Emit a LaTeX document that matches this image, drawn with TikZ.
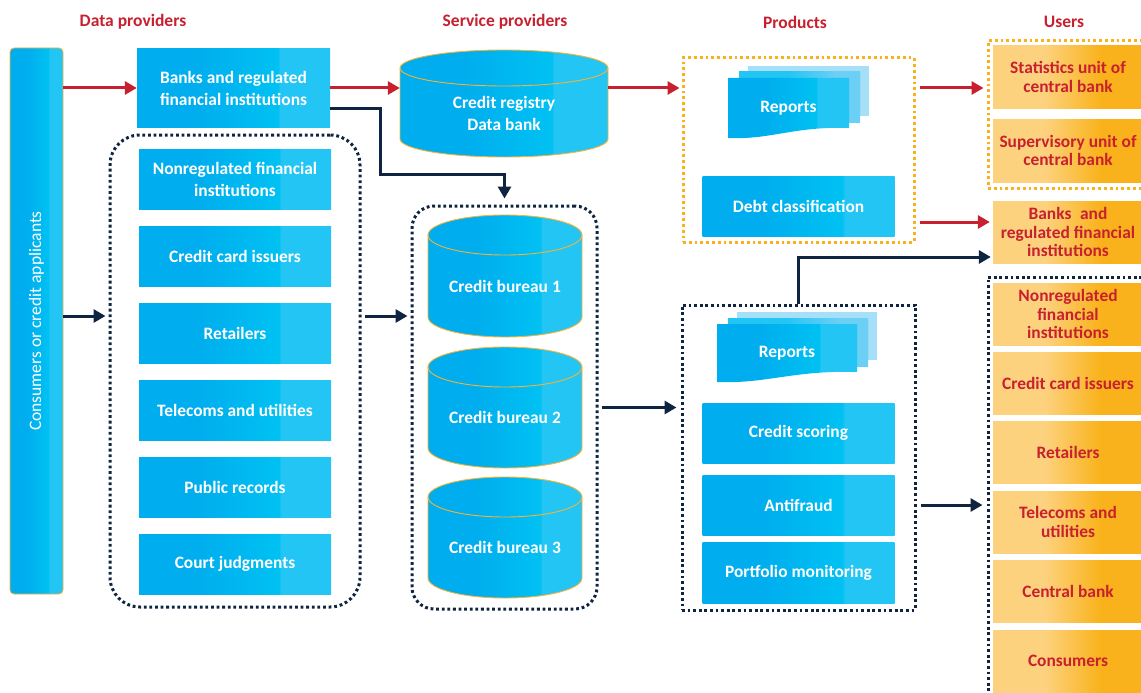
\documentclass[tikz,border=0pt]{standalone}
\usepackage{fontspec}
\setmainfont{Carlito}
\usetikzlibrary{arrows.meta, positioning}

\definecolor{navy}{HTML}{0E2441}
\definecolor{ibred}{HTML}{C8202F}
\definecolor{cyanA}{HTML}{00ADEE}
\definecolor{cyanB}{HTML}{00C1F2}
\definecolor{cyanC}{HTML}{22C5F3}
\definecolor{sand}{HTML}{FDD27F}
\definecolor{amber}{HTML}{F9B21B}
\definecolor{rim}{HTML}{F7B337}
\definecolor{paleA}{HTML}{A5DFF8}
\definecolor{paleB}{HTML}{6CCFF6}

\pgfdeclarehorizontalshading{bluefill}{100bp}{color(0bp)=(cyanA); color(40bp)=(cyanA); color(61.5bp)=(cyanB); color(62bp)=(cyanC); color(100bp)=(cyanC)}
\pgfdeclarehorizontalshading{amberfill}{100bp}{color(0bp)=(sand); color(42bp)=(sand); color(61bp)=(amber); color(100bp)=(amber)}
\pgfdeclarehorizontalshading{palefill}{100bp}{color(0bp)=(cyanC); color(45bp)=(cyanC); color(65bp)=(paleB); color(100bp)=(paleB)}

% name, left, right, top, bottom, x radius, y radius, text
\newcommand\drum[8]{%
  \shadedraw[shading=bluefill, draw=rim, line width=0.9pt]
    (#2,{#4+#7}) -- (#2,{#5-#7})
    arc[start angle=180, end angle=360, x radius=#6pt, y radius=#7pt]
    -- (#3,{#4+#7})
    arc[start angle=0, end angle=180, x radius=#6pt, y radius=#7pt] -- cycle;
  \draw[rim, line width=0.9pt] (#2,{#4+#7})
    arc[start angle=180, end angle=360, x radius=#6pt, y radius=#7pt];
  \node[inner sep=0pt, minimum width={(#3-#2)*1pt}, minimum height={(#5-#4)*1pt}]
    (#1) at ({(#2+#3)/2},{(#4+#5)/2}) {};
  \node[boxtext] (#1-label) at ([yshift=-10pt]#1.center) {#8};
}

% name, left, top, width, height
\newcommand\reportstack[5]{%
  \fill[paleA] ({#2+20},{#3-12}) rectangle ++(#4,#5);
  \shade[shading=palefill] ({#2+11},{#3-6}) rectangle ++(#4,#5);
  \shade[shading=bluefill] (#2,#3) -- ({#2+#4},#3) -- ({#2+#4},{#3+#5})
    .. controls ({#2+0.55*#4},{#3+#5-2}) and ({#2+0.35*#4},{#3+#5+12}) .. (#2,{#3+#5+10}) -- cycle;
  \node[boxtext] (#1) at ({#2+#4/2},{#3+#5/2+5}) {Reports};
}

\begin{document}
\begin{tikzpicture}[
  x=1pt, y=-1pt,
  boxtext/.style={font=\bfseries\fontsize{17.4}{22}\selectfont, text=white, align=center},
  srcbox/.style={boxtext, shade, shading=bluefill, minimum width=192pt, minimum height=60pt, inner sep=0pt},
  userbox/.style={shade, shading=amberfill, minimum width=150pt, minimum height=62pt, inner sep=0pt,
    align=center, text=ibred, font=\bfseries\fontsize{17.4}{18.8}\selectfont},
  head/.style={text=ibred, font=\bfseries\fontsize{17.5}{20}\selectfont},
  redarrow/.style={draw=ibred, line width=3pt, -{Triangle[length=12pt, width=13pt]}},
  navyarrow/.style={draw=navy, line width=3pt, -{Triangle[length=12pt, width=13pt]}},
  navydots/.style={draw=navy, line width=3pt, dash pattern=on 2.8pt off 2.8pt, inner sep=0pt},
  amberdots/.style={draw=amber, line width=3pt, dash pattern=on 2.8pt off 3pt, inner sep=0pt},
]
  \useasboundingbox (0,0) rectangle (1141,693);
  \clip (0,0) rectangle (1141,693);
  \fill[white] (0,0) rectangle (1141,693);

  % column heads
  \node[head] (hdata) at (133,22) {Data providers};
  \node[head] (hservice) at (505,22) {Service providers};
  \node[head] (hproducts) at (795,22) {Products};
  \node[head] (husers) at (1064,22) {Users};

  % applicants
  \node[shade, shading=bluefill, draw=rim, line width=0.8pt, rounded corners=4pt,
    minimum width=53pt, minimum height=546pt, inner sep=0pt] (cons) at (36.5,321) {};
  \node[rotate=90, text=white, font=\fontsize{17.5}{20}\selectfont] (cons-label) at (cons.center) {Consumers or credit applicants};

  % data providers
  \node[srcbox, minimum width=193pt, minimum height=78pt] (banks) at (233.5,88) {Banks and regulated\\financial institutions};
  \node[navydots, rounded corners=30pt, minimum width=250pt, minimum height=472pt] (datagrp) at (235,371) {};
  \node[srcbox] (nonreg) at (235,179.5) {Nonregulated financial\\institutions};
  \node[srcbox, below=16.5pt of nonreg] (cards) {Credit card issuers};
  \node[srcbox, below=16.5pt of cards] (retail) {Retailers};
  \node[srcbox, below=16.5pt of retail] (telco) {Telecoms and utilities};
  \node[srcbox, below=16.5pt of telco] (public) {Public records};
  \node[srcbox, below=16.5pt of public] (court) {Court judgments};

  % service providers
  \drum{registry}{400}{608}{50}{157}{104}{18}{Credit registry\\Data bank}
  \node[navydots, rounded corners=22pt, minimum width=185pt, minimum height=403pt] (bureaus) at (504.5,407.5) {};
  \drum{bureau1}{428}{582}{215}{337}{77}{20}{Credit bureau 1}
  \drum{bureau2}{428}{582}{347}{468}{77}{20}{Credit bureau 2}
  \drum{bureau3}{428}{582}{477}{598}{77}{20}{Credit bureau 3}

  % products
  \node[amberdots, minimum width=231pt, minimum height=184pt] (prodA) at (798.5,150) {};
  \reportstack{repA}{728}{78}{121}{50}
  \node[srcbox] (debt) at (798.5,206) {Debt classification};
  \node[navydots, minimum width=233pt, minimum height=305pt] (prodB) at (798.5,457.5) {};
  \reportstack{repB}{717}{324}{140}{48}
  \node[srcbox] (scoring) at (798.5,433) {Credit scoring};
  \node[srcbox] (antifraud) at (798.5,505) {Antifraud};
  \node[srcbox, minimum height=61pt] (portfolio) at (798.5,572.5) {Portfolio monitoring};

  % users
  \node[amberdots, minimum width=172pt, minimum height=147pt] (usersA) at (1074,114.5) {};
  \node[userbox] (stats) at (1068,77) {Statistics unit of\\central bank};
  \node[userbox, minimum height=63pt] (superv) at (1068,150.5) {Supervisory unit of\\central bank};
  \node[userbox] (usrbanks) at (1068,232) {Banks\enspace and\\regulated financial\\institutions};
  \node[navydots, minimum width=172pt, minimum height=443pt] (usersB) at (1074,498.5) {};
  \node[userbox] (usrnonreg) at (1068,314) {Nonregulated\\financial\\institutions};
  \node[userbox, below=7pt of usrnonreg] (usrcards) {Credit card issuers};
  \node[userbox, below=7pt of usrcards] (usrretail) {Retailers};
  \node[userbox, below=7pt of usrretail] (usrtelco) {Telecoms and\\utilities};
  \node[userbox, below=7pt of usrtelco] (usrcentral) {Central bank};
  \node[userbox, below=7pt of usrcentral] (usrcons) {Consumers};

  % flows
  \coordinate (feed) at (0,316);
  \coordinate (bankin) at ([yshift=10pt]usrbanks.west);
  \coordinate (scorein) at ([yshift=-25pt]usrbanks.west);
  \draw[redarrow] (cons.east |- banks.west) -- (banks.west);
  \draw[redarrow] (banks.east) -- (banks.east -| registry.west);
  \draw[redarrow] (registry.east |- banks.east) -- ([xshift=-2pt]prodA.west |- banks.east);
  \draw[navyarrow] ([yshift=-20pt]banks.east) -- ++(50,0) -- ++(0,66) -| ([yshift=6pt]bureaus.north);
  \draw[navyarrow] (cons.east |- feed) -- ([xshift=-3pt]datagrp.west |- feed);
  \draw[navyarrow] ([xshift=3pt]datagrp.east |- feed) -- ([xshift=-3pt]bureaus.west |- feed);
  \draw[navyarrow] ([xshift=3pt]bureaus.east) -- ([xshift=-4pt]bureaus.east -| prodB.west);
  \draw[redarrow] ([xshift=4pt]prodA.east |- banks.east) -- ([xshift=-3pt]usersA.west |- banks.east);
  \draw[redarrow] ([xshift=4pt]prodA.east |- bankin) -- ([xshift=-3pt]bankin);
  \draw[navyarrow] (prodB.north) |- ([xshift=-2pt]scorein);
  \draw[navyarrow] ([xshift=4pt]prodB.east |- antifraud) -- ([xshift=-4pt]usersB.west |- antifraud);
\end{tikzpicture}
\end{document}
